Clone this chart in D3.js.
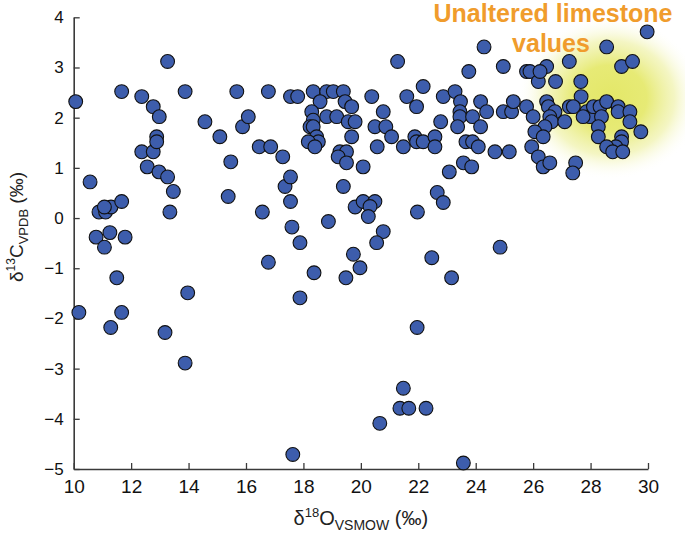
<!DOCTYPE html>
<html>
<head>
<meta charset="utf-8">
<script src="https://cdn.jsdelivr.net/npm/d3@7"></script>
<style>
  html, body { margin: 0; padding: 0; background: #fff; }
  svg { display: block; }
  text { font-family: "Liberation Sans", Arial, Helvetica, sans-serif; }
</style>
</head>
<body>
<svg id="chart" width="685" height="533"></svg>
<script>
// ---- data (δ18O VSMOW, δ13C VPDB) ----
const d18O = [
  10.07,10.18,10.57,10.78,10.88,11.11,11.30,11.07,11.07,11.26,11.29,11.50,11.67,11.67,11.67,11.79,
  12.37,12.37,12.56,12.77,12.77,12.89,12.89,12.98,12.97,13.27,13.27,13.18,13.47,13.35,13.88,13.97,13.88,
  14.57,15.09,15.47,15.38,15.68,15.88,16.08,16.46,16.57,16.78,16.86,16.78,
  17.28,17.36,17.55,17.55,17.55,17.80,17.60,17.88,17.88,17.63,
  18.34,18.81,19.04,19.39,18.58,18.29,19.45,19.68,18.81,19.16,18.34,18.23,18.34,19.56,19.80,
  18.46,18.52,18.17,18.40,19.68,19.27,19.50,19.21,19.50,20.08,19.39,18.87,19.80,20.08,20.49,20.32,
  20.26,20.78,20.55,19.74,19.97,19.48,18.37,20.66,
  20.38,20.78,20.49,20.87,21.07,20.57,21.28,21.60,22.17,21.94,21.48,21.88,21.94,22.17,22.58,22.58,
  22.87,22.78,23.28,23.47,23.45,23.45,23.89,24.17,24.38,23.37,24.17,23.66,23.89,24.09,24.67,23.76,
  24.29,23.57,23.86,23.08,22.66,22.87,21.97,22.47,23.16,21.96,21.48,21.36,21.67,22.27,23.57,24.85,
  24.96,25.77,25.89,26.47,26.18,26.24,27.26,26.78,27.66,27.67,28.56,29.08,29.46,29.97,25.17,24.96,
  25.25,25.31,25.77,26.00,26.47,26.53,26.76,26.58,26.64,26.41,27.10,26.06,26.35,25.95,26.18,26.35,
  26.58,27.26,27.40,27.48,27.38,27.86,27.98,27.74,28.10,28.33,28.56,28.38,28.27,28.27,28.96,28.96,
  29.37,29.37,29.75,29.08,29.08,28.88,28.56,28.77,29.12
];
const d13C = [
  2.32,-1.88,0.72,-0.38,0.12,0.12,0.22,0.22,-0.58,-0.29,-2.18,-1.19,2.52,0.33,-1.88,-0.38,
  2.42,1.32,1.02,2.22,1.32,1.62,1.52,2.02,0.92,3.12,0.82,-2.28,0.53,0.12,2.52,-1.49,-2.89,
  1.92,1.62,1.12,0.43,2.52,1.82,2.02,1.42,0.12,2.52,1.42,-0.88,
  1.22,0.63,0.82,0.33,2.42,2.42,-0.18,-0.49,-1.59,-4.71,
  2.52,2.52,2.52,2.52,2.32,2.12,2.32,2.22,2.02,2.02,1.95,1.82,1.82,1.92,1.92,
  1.62,1.52,1.52,1.42,1.62,1.32,1.32,1.22,1.10,1.02,0.63,-0.07,0.22,0.33,0.33,0.23,
  0.03,-0.27,-0.49,-0.72,-0.99,-1.19,-1.09,-4.09,
  2.42,2.12,1.82,1.82,1.62,1.42,3.12,2.42,2.62,2.22,1.42,1.62,1.52,1.52,1.62,1.42,
  2.42,1.92,2.52,2.32,2.12,2.02,2.02,2.32,2.12,1.82,1.82,1.52,1.52,1.42,1.32,2.92,
  3.41,1.10,1.02,0.92,0.51,0.31,0.12,-0.79,-1.19,-2.18,-3.39,-3.79,-3.79,-3.79,-4.88,-0.58,
  3.02,2.92,2.92,3.02,2.72,2.92,3.12,2.72,2.72,2.42,3.41,3.02,3.12,3.71,1.32,2.12,
  2.12,2.32,2.22,2.02,2.32,2.22,2.12,2.02,1.92,1.82,1.92,1.72,1.62,1.42,1.22,1.02,
  1.10,2.22,2.22,1.10,0.90,2.12,2.02,2.02,2.22,2.22,2.32,2.02,1.82,1.62,2.22,2.12,
  2.12,1.92,1.72,1.62,1.52,1.42,1.42,1.32,1.32
];
const xTicks = [10,12,14,16,18,20,22,24,26,28,30];
const yTicks = [4,3,2,1,0,-1,-2,-3,-4,-5];
const annotationLines = ["Unaltered limestone", "values"];

const points = d18O.map((x, i) => ({x, y: d13C[i]}));

const svg = d3.select("#chart");
const mLeft = 73.7, mRight = 648, mTop = 17.3, mBottom = 469;

const x = d3.scaleLinear().domain([10, 30]).range([mLeft, mRight]);
const y = d3.scaleLinear().domain([-5, 4]).range([mBottom, mTop]);

// glow
const defs = svg.append("defs");
const grad = defs.append("radialGradient").attr("id", "glow");
grad.append("stop").attr("offset", "0%").attr("stop-color", "#e2e660").attr("stop-opacity", 0.95);
grad.append("stop").attr("offset", "40%").attr("stop-color", "#e4e866").attr("stop-opacity", 0.9);
grad.append("stop").attr("offset", "70%").attr("stop-color", "#ebee92").attr("stop-opacity", 0.55);
grad.append("stop").attr("offset", "100%").attr("stop-color", "#ffffff").attr("stop-opacity", 0);
svg.append("ellipse")
  .attr("cx", 610).attr("cy", 98)
  .attr("rx", 92).attr("ry", 82)
  .attr("fill", "url(#glow)");

// annotation
const ann = svg.append("text")
  .attr("text-anchor", "middle")
  .attr("fill", "#f09c2c")
  .attr("font-weight", "bold")
  .attr("font-size", 25);
ann.append("tspan").attr("x", 553).attr("y", 22).text(annotationLines[0]);
ann.append("tspan").attr("x", 551).attr("y", 52).text(annotationLines[1]);

// axes
const axisColor = "#3a3a3a";
const gx = svg.append("g").attr("transform", `translate(0,${mBottom})`)
  .call(d3.axisBottom(x).tickValues(xTicks).tickSizeInner(-6).tickSizeOuter(0).tickPadding(11).tickFormat(d3.format("d")));
const gy = svg.append("g").attr("transform", `translate(${mLeft},0)`)
  .call(d3.axisLeft(y).tickValues(yTicks).tickSizeInner(-6).tickSizeOuter(0).tickPadding(10).tickFormat(d3.format("d")));
[gx, gy].forEach(g => {
  g.select(".domain").attr("stroke", axisColor).attr("stroke-width", 1.6);
  g.selectAll(".tick line").attr("stroke", axisColor).attr("stroke-width", 1.3);
  g.selectAll(".tick text").attr("fill", "#111")
    .attr("font-family", "'Liberation Sans', Arial, sans-serif");
});
gx.selectAll(".tick text").attr("font-size", 19);
gy.selectAll(".tick text").attr("font-size", 17);

// points
svg.append("g").selectAll("circle").data(points).join("circle")
  .attr("cx", d => x(d.x)).attr("cy", d => y(d.y))
  .attr("r", 6.9)
  .attr("fill", "#3d5dac")
  .attr("stroke", "#111")
  .attr("stroke-width", 1.1);

// axis titles
const xt = svg.append("text").attr("x", (mLeft + mRight) / 2).attr("y", 525)
  .attr("text-anchor", "middle").attr("font-size", 20).attr("fill", "#222");
xt.append("tspan").text("δ");
xt.append("tspan").attr("font-size", 13).attr("dy", -8).text("18");
xt.append("tspan").attr("dy", 8).text("O");
xt.append("tspan").attr("font-size", 14).attr("dy", 5).text("VSMOW");
xt.append("tspan").attr("dy", -5).text(" (‰)");

const yt = svg.append("text")
  .attr("transform", `translate(23,227) rotate(-90)`)
  .attr("text-anchor", "middle").attr("font-size", 19).attr("fill", "#222");
yt.append("tspan").text("δ");
yt.append("tspan").attr("font-size", 12).attr("dy", -8).text("13");
yt.append("tspan").attr("dy", 8).text("C");
yt.append("tspan").attr("font-size", 13).attr("dy", 5).text("VPDB");
yt.append("tspan").attr("dy", -5).text(" (‰)");
</script>
</body>
</html>
